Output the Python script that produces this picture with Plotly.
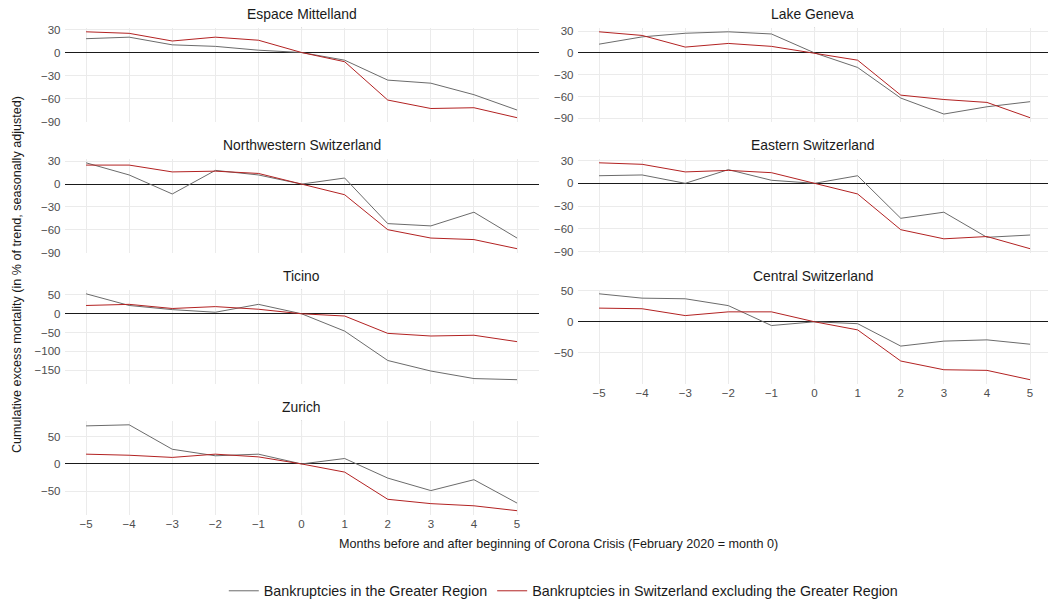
import plotly.graph_objects as go

months = [-5, -4, -3, -2, -1, 0, 1, 2, 3, 4, 5]
regions = ["Espace Mittelland", "Lake Geneva", "Northwestern Switzerland",
           "Eastern Switzerland", "Ticino", "Central Switzerland", "Zurich"]

# Bankruptcies in the Greater Region
greater_espace = [18, 20, 10, 8, 3, 0, -10, -36, -40, -55, -75]
greater_geneva = [12, 22, 27, 29, 26, 0, -20, -62, -84, -74, -67]
greater_northwest = [28, 12, -13, 18, 12, 0, 8, -52, -55, -37, -71]
greater_eastern = [10, 11, 0, 18, 4, 0, 10, -46, -38, -71, -68]
greater_ticino = [53, 22, 11, 4, 25, 0, -46, -124, -152, -172, -175]
greater_central = [45, 38, 37, 26, -6, 0, -3, -39, -31, -29, -36]
greater_zurich = [70, 72, 27, 15, 18, 0, 10, -26, -49, -29, -72]

# Bankruptcies in Switzerland excluding the Greater Region
rest_espace = [27, 25, 15, 20, 16, 0, -12, -62, -73, -72, -85]
rest_geneva = [29, 24, 8, 13, 9, 0, -10, -58, -64, -68, -89]
rest_northwest = [25, 25, 16, 17, 14, 0, -14, -60, -71, -73, -85]
rest_eastern = [27, 25, 15, 17, 14, 0, -14, -61, -73, -70, -86]
rest_ticino = [22, 25, 14, 19, 12, 0, -6, -52, -59, -57, -74]
rest_central = [22, 21, 10, 16, 16, 0, -13, -63, -77, -78, -93]
rest_zurich = [18, 16, 12, 18, 13, 0, -15, -65, -73, -77, -86]

greater = [greater_espace, greater_geneva, greater_northwest, greater_eastern,
           greater_ticino, greater_central, greater_zurich]
rest = [rest_espace, rest_geneva, rest_northwest, rest_eastern,
        rest_ticino, rest_central, rest_zurich]
y_dticks = [30, 30, 30, 30, 50, 50, 50]

name_greater = "Bankruptcies in the Greater Region"
name_rest = "Bankruptcies in Switzerland excluding the Greater Region"
col_greater = "#6b6b6b"
col_rest = "#b22222"

W, H = 1048, 602
FONT = "Liberation Sans, Arial, sans-serif"
left_px = (64.5, 538.6)
right_px = (577.5, 1048)
px_per_unit = (left_px[1] - left_px[0]) / 11.0
row_tops = [27.5, 158.5, 289.5, 420.5]
row_h = 94.5

fig = go.Figure()
layout = dict(
    width=W, height=H,
    margin=dict(l=0, r=0, t=0, b=0, autoexpand=False),
    paper_bgcolor="white", plot_bgcolor="white",
    font=dict(family=FONT, color="#4d4d4d", size=11),
    showlegend=True,
    legend=dict(orientation="h", x=0.5375, xanchor="center", y=1 - 591 / H,
                yanchor="middle", font=dict(size=14.3, color="#1a1a1a"),
                itemwidth=30, tracegroupgap=0, bgcolor="rgba(0,0,0,0)"),
)
annotations = []
shapes = []

for i, region in enumerate(regions):
    row, col = divmod(i, 2)
    idx = i + 1
    xa = "x" if idx == 1 else f"x{idx}"
    ya = "y" if idx == 1 else f"y{idx}"
    xpx = left_px if col == 0 else right_px
    xr = [-5.5, -5.5 + (xpx[1] - xpx[0]) / px_per_unit]
    top = row_tops[row]
    bottom = top + row_h
    vals = greater[i] + rest[i]
    lo, hi = min(vals), max(vals)
    pad = 0.05 * (hi - lo)
    yr = [lo - pad, hi + pad]
    show_x = region in ("Zurich", "Central Switzerland")

    fig.add_trace(go.Scatter(x=months, y=greater[i], mode="lines", name=name_greater,
                             line=dict(color=col_greater, width=1), xaxis=xa, yaxis=ya,
                             legendgroup="g", showlegend=(i == 0)))
    fig.add_trace(go.Scatter(x=months, y=rest[i], mode="lines", name=name_rest,
                             line=dict(color=col_rest, width=1), xaxis=xa, yaxis=ya,
                             legendgroup="r", showlegend=(i == 0)))

    layout["xaxis" if idx == 1 else f"xaxis{idx}"] = dict(
        domain=[xpx[0] / W, xpx[1] / W], range=xr, anchor=ya, automargin=False,
        tickmode="array", tickvals=months, ticktext=[str(m).replace("-", "\u2212") for m in months],
        showticklabels=show_x, showgrid=True, gridcolor="#ebebeb", gridwidth=1,
        zeroline=False, showline=False, ticks="", tickfont=dict(size=11.5, color="#4d4d4d"),
    )
    layout["yaxis" if idx == 1 else f"yaxis{idx}"] = dict(
        domain=[1 - bottom / H, 1 - top / H], range=yr, anchor=xa, automargin=False,
        dtick=y_dticks[i], tick0=0, showgrid=True, gridcolor="#ebebeb", gridwidth=1,
        zeroline=True, zerolinecolor="#1a1a1a", zerolinewidth=1,
        showline=False, ticks="", tickfont=dict(size=11.5, color="#4d4d4d"),
        ticklabelstandoff=3,
    )
    shapes.append(dict(type="line", xref=xa, yref=f"{ya} domain", x0=0, x1=0, y0=0, y1=1,
                       line=dict(color="#b8b8b8", width=1, dash="dash"), layer="below"))
    annotations.append(dict(text=region, xref="paper", yref="paper",
                            x=(xpx[0] + xpx[1]) / 2 / W, y=1 - (top - 13.5) / H,
                            xanchor="center", yanchor="middle", showarrow=False,
                            font=dict(size=13.9, color="#1a1a1a")))

annotations.append(dict(text="Months before and after beginning of Corona Crisis (February 2020 = month 0)",
                        xref="paper", yref="paper", x=558 / W, y=1 - 544 / H,
                        xanchor="center", yanchor="middle", showarrow=False,
                        font=dict(size=12.6, color="#1a1a1a")))
annotations.append(dict(text="Cumulative excess mortality (in % of trend, seasonally adjusted)",
                        xref="paper", yref="paper", x=17 / W, y=1 - 275 / H,
                        xanchor="center", yanchor="middle", showarrow=False, textangle=-90,
                        font=dict(size=12.6, color="#1a1a1a")))

layout["annotations"] = annotations
layout["shapes"] = shapes
fig.update_layout(**layout)
fig.write_html("out.html", config={"displayModeBar": False},
               post_script="document.body.style.margin='0';document.body.style.overflow='hidden';")
